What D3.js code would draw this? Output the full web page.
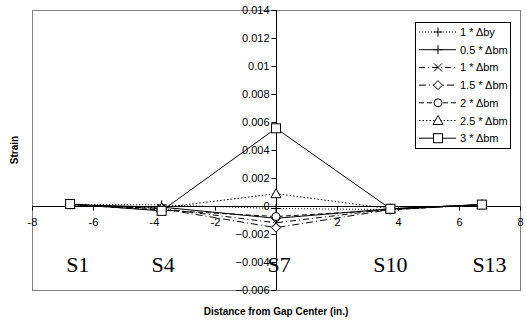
<!DOCTYPE html>
<html>
<head>
<meta charset="utf-8">
<script src="https://cdn.jsdelivr.net/npm/d3@7"></script>
<style>
  html, body { margin: 0; padding: 0; background: #fff; }
  svg { display: block; font-family: "Liberation Sans", Arial, sans-serif; }
</style>
</head>
<body>
<svg id="chart" width="527" height="322"></svg>
<script>
// Gauge locations (in.) measured from the gap center
const positions = [-6.75, -3.75, 0, 3.75, 6.75];
const gaugeNames = ["S1", "S4", "S7", "S10", "S13"];
const gaugeLabelX = [-6.5, -3.7, 0.1, 3.75, 7.0];

// Strain readings per load case, one value per gauge
const seriesNames = ["1 * \u0394by", "0.5 * \u0394bm", "1 * \u0394bm", "1.5 * \u0394bm", "2 * \u0394bm", "2.5 * \u0394bm", "3 * \u0394bm"];
const strainBy1   = [0.00012, 0.00008, -0.00018, -0.00025, 0.00008];
const strainBm05  = [0.00010, -0.00008, -0.00088, -0.00020, 0.00010];
const strainBm1   = [0.00010, -0.00018, -0.00120, -0.00022, 0.00010];
const strainBm15  = [0.00010, -0.00020, -0.00155, -0.00025, 0.00010];
const strainBm2   = [0.00010, -0.00030, -0.00075, -0.00028, 0.00010];
const strainBm25  = [0.00010, -0.00012, 0.00088, -0.00020, 0.00010];
const strainBm3   = [0.00014, -0.00035, 0.00555, -0.00020, 0.00010];

// Axis ticks
const xTicks = [-8, -6, -4, -2, 0, 2, 4, 6, 8];
const yTicks = [-0.006, -0.004, -0.002, 0, 0.002, 0.004, 0.006, 0.008, 0.01, 0.012, 0.014];

const seriesValues = [strainBy1, strainBm05, strainBm1, strainBm15, strainBm2, strainBm25, strainBm3];
const styles = [
  { dash: "1,2",     marker: "plus" },
  { dash: null,      marker: "plus" },
  { dash: "6,3,1,3", marker: "cross" },
  { dash: "7,3,1,3", marker: "diamond" },
  { dash: "5,3",     marker: "circle" },
  { dash: "1.5,2",   marker: "triangle" },
  { dash: null,      marker: "square" }
];

const svg = d3.select("#chart");
const plot = { left: 32, right: 520, top: 10, bottom: 290 };

const x = d3.scaleLinear().domain([-8, 8]).range([plot.left, plot.right]);
const y = d3.scaleLinear().domain([-0.006, 0.014]).range([plot.bottom, plot.top]);

// Plot area frame
svg.append("rect")
  .attr("x", plot.left + 0.5).attr("y", plot.top + 0.5)
  .attr("width", plot.right - plot.left).attr("height", plot.bottom - plot.top)
  .attr("fill", "#fff").attr("stroke", "#808080").attr("stroke-width", 1);

// Gauge names along the span
svg.append("g").selectAll("text")
  .data(gaugeNames)
  .join("text")
  .attr("x", (d, i) => x(gaugeLabelX[i]))
  .attr("y", 272)
  .attr("text-anchor", "middle")
  .attr("font-family", "'Liberation Serif', 'Times New Roman', serif")
  .attr("font-size", 22)
  .attr("fill", "#000")
  .text(d => d);

// Axes crossing at the origin
const yAxis = d3.axisLeft(y).tickValues(yTicks).tickSize(5).tickPadding(2)
  .tickFormat(d => d3.format("")(+d.toFixed(3)));
const gy = svg.append("g").attr("transform", `translate(${Math.round(x(0)) + 0.5},0)`).call(yAxis);

const xAxis = d3.axisBottom(x).tickValues(xTicks).tickSize(4).tickPadding(8)
  .tickFormat(d => d === 0 ? "" : d);
const gx = svg.append("g").attr("transform", `translate(0,${Math.round(y(0)) + 0.5})`).call(xAxis);

[gx, gy].forEach(g => {
  g.select(".domain").attr("stroke", "#000");
  g.selectAll(".tick line").attr("stroke", "#000");
  g.selectAll(".tick text").attr("font-size", 11).attr("fill", "#000")
    .attr("font-family", "'Liberation Sans', Arial, sans-serif");
});
gx.select(".domain").attr("d", `M${plot.left},0H${plot.right}`);
gy.select(".domain").attr("d", `M0,${plot.top}V${plot.bottom}`);

// Marker symbols
function drawMarker(g, type, cx, cy) {
  const s = 4.5;
  if (type === "plus") {
    g.append("path").attr("d", `M${cx - s},${cy}H${cx + s}M${cx},${cy - s}V${cy + s}`)
      .attr("stroke", "#000").attr("fill", "none");
  } else if (type === "cross") {
    g.append("path").attr("d", `M${cx - 4},${cy - 4}L${cx + 4},${cy + 4}M${cx - 4},${cy + 4}L${cx + 4},${cy - 4}`)
      .attr("stroke", "#000").attr("fill", "none");
  } else if (type === "diamond") {
    g.append("path").attr("d", `M${cx},${cy - s}L${cx + s},${cy}L${cx},${cy + s}L${cx - s},${cy}Z`)
      .attr("stroke", "#000").attr("fill", "#fff");
  } else if (type === "circle") {
    g.append("circle").attr("cx", cx).attr("cy", cy).attr("r", 4)
      .attr("stroke", "#000").attr("fill", "#fff");
  } else if (type === "triangle") {
    g.append("path").attr("d", `M${cx},${cy - 5}L${cx + 5},${cy + 4}L${cx - 5},${cy + 4}Z`)
      .attr("stroke", "#000").attr("fill", "#fff");
  } else if (type === "square") {
    g.append("rect").attr("x", cx - 4.5).attr("y", cy - 4.5).attr("width", 9).attr("height", 9)
      .attr("stroke", "#000").attr("fill", "#fff");
  }
}

// Series lines and markers
const line = d3.line().x((d, i) => x(positions[i])).y(d => y(d));
const seriesG = svg.append("g");
seriesValues.forEach((vals, k) => {
  const g = seriesG.append("g");
  g.append("path").datum(vals)
    .attr("d", line)
    .attr("fill", "none")
    .attr("stroke", "#000")
    .attr("stroke-width", 1)
    .attr("stroke-dasharray", styles[k].dash);
  vals.forEach((v, i) => drawMarker(g, styles[k].marker, x(positions[i]), y(v)));
});

// Legend
const legend = svg.append("g");
legend.append("rect")
  .attr("x", 415.5).attr("y", 22.5).attr("width", 95).attr("height", 126)
  .attr("fill", "#fff").attr("stroke", "#000");
seriesNames.forEach((name, k) => {
  const ry = 32 + k * 17.7;
  const g = legend.append("g");
  g.append("line").attr("x1", 419).attr("x2", 456).attr("y1", ry).attr("y2", ry)
    .attr("stroke", "#000").attr("stroke-dasharray", styles[k].dash);
  drawMarker(g, styles[k].marker, 438, ry);
  g.append("text").attr("x", 460).attr("y", ry + 4)
    .attr("font-size", 11).attr("fill", "#000").text(name);
});

// Axis titles
svg.append("text")
  .attr("transform", `translate(18,${(plot.top + plot.bottom) / 2}) rotate(-90)`)
  .attr("text-anchor", "middle")
  .attr("font-size", 10).attr("font-weight", "bold").attr("fill", "#000")
  .text("Strain");

svg.append("text")
  .attr("x", 276).attr("y", 315)
  .attr("text-anchor", "middle")
  .attr("font-size", 10).attr("font-weight", "bold").attr("fill", "#000")
  .text("Distance from Gap Center (in.)");
</script>
</body>
</html>
